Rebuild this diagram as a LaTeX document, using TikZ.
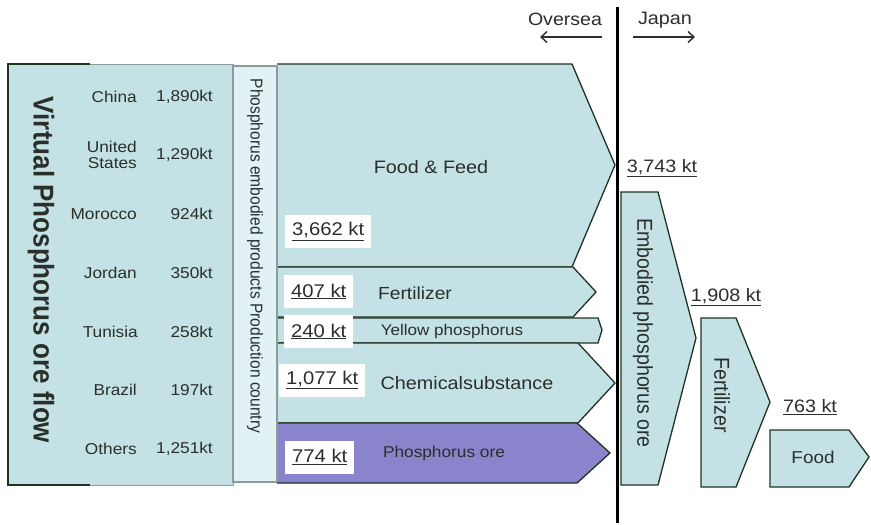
\documentclass[tikz,border=0pt]{standalone}
\usepackage{fontspec}
\setmainfont[FakeStretch=1.1]{Liberation Sans}
\newfontfamily\rotfont{Liberation Sans}
\usetikzlibrary{arrows.meta}
\definecolor{lblue}{HTML}{C4E2E6}
\definecolor{pblue}{HTML}{E2F1F4}
\definecolor{purp}{HTML}{8A84CC}
\definecolor{dgreen}{HTML}{1F3320}
\definecolor{bgray}{HTML}{8C9C9C}
\definecolor{tcol}{HTML}{2A2F2A}
\newcommand{\fsz}[1]{\fontsize{#1}{#1}\selectfont}
\tikzset{
  flow/.style={draw=dgreen, fill=lblue, line width=1.3pt, line join=miter},
  ore/.style={flow, fill=purp},
  lbl/.style={text=tcol, inner sep=0pt},
  val/.style={fill=white, text=tcol, inner xsep=7pt, minimum height=33pt, anchor=west, font=\fsz{18.4}},
  cty/.style={lbl, font=\fsz{15.7}, anchor=east, align=right},
  tot/.style={lbl, font=\fsz{18}},
}
\begin{document}
\begin{tikzpicture}[x=1pt,y=-1pt]
\useasboundingbox (0,0) rectangle (871,525);
\fill[white] (0,0) rectangle (871,525);
% left box
\fill[lblue] (8,64) rectangle (233,485);
\draw[bgray, line width=1pt] (8,64) rectangle (233,485);
\draw[dgreen, line width=1.6pt] (90,64) -- (8,64) -- (8,485) -- (90,485);
% middle column
\draw[fill=pblue, draw=bgray, line width=1.2pt] (233,66) rectangle (277,482);
% flows
\draw[flow] (277,64) -- (572,64) -- (615,165) -- (572,267) -- (277,267);
\draw[flow] (277,267) -- (573,267) -- (596,292) -- (573,317) -- (277,317);
\draw[flow] (277,318) -- (598,318) -- (602,330) -- (598,343) -- (277,343);
\draw[flow] (277,343) -- (578,343) -- (615,383) -- (578,423) -- (277,423);
\draw[ore] (277,423) -- (577,423) -- (610,453) -- (577,483) -- (277,483);
\draw[bgray, line width=1.2pt] (277,66) -- (277,482);
% right shapes
\draw[flow] (621,192) -- (658,192) -- (696,338) -- (658,485) -- (621,485) -- cycle;
\draw[flow] (701,318) -- (736,318) -- (770,402) -- (736,487) -- (701,487) -- cycle;
\draw[flow] (770,430) -- (849,430) -- (869,457) -- (849,487) -- (770,487) -- cycle;
% border line
\coordinate (ltop) at (617,7);
\coordinate (lbot) at (617,523);
\draw[black, line width=3pt] (ltop) -- (lbot);
\coordinate (oa) at (602,37);
\coordinate (ob) at (540,37);
\coordinate (ja) at (633,37);
\coordinate (jb) at (695,37);
\draw[tcol, line width=1.4pt, -{Straight Barb[length=6pt,width=11pt]}] (oa) -- (ob);
\draw[tcol, line width=1.4pt, -{Straight Barb[length=6pt,width=11pt]}] (ja) -- (jb);
\node[lbl, font=\fsz{17.8}] (oversea) at (565,19) {Oversea};
\node[lbl, font=\fsz{18}] (japan) at (665,20) {Japan};
% left texts
\node[lbl, rotate=-90] (vpf) at (41,270) {\scalebox{1}[1.1]{\rotfont\bfseries\fsz{26}Virtual Phosphorus ore flow}};
\node[cty] (c1) at (137,97) {China};
\node[cty] (c2) at (137,155) {\fontsize{15.7}{18}\selectfont United\\States};
\node[cty] (c3) at (137,214) {Morocco};
\node[cty] (c4) at (137,273) {Jordan};
\node[cty] (c5) at (138,332) {Tunisia};
\node[cty] (c6) at (137,390) {Brazil};
\node[cty] (c7) at (137,449) {Others};
\node[cty] (v1) at (213,97) {1,890kt};
\node[cty] (v2) at (213,155) {1,290kt};
\node[cty] (v3) at (213,214) {924kt};
\node[cty] (v4) at (213,273) {350kt};
\node[cty] (v5) at (213,332) {258kt};
\node[cty] (v6) at (213,390) {197kt};
\node[cty] (v7) at (213,449) {1,251kt};
\node[lbl, rotate=-90] (ppc) at (255,256) {\scalebox{1}[1.1]{\rotfont\fsz{15.6}Phosphorus embodied products Production country}};
% flow labels
\node[lbl, font=\fsz{18}] (ff) at (431,167) {Food \& Feed};
\node[lbl, font=\fsz{17.5}] (fe) at (415,293) {Fertilizer};
\node[lbl, font=\fsz{15.5}] (yp) at (452,331) {Yellow phosphorus};
\node[lbl, font=\fsz{18}] (cs) at (467,383) {Chemicalsubstance};
\node[lbl, font=\fsz{15.7}] (po) at (444,453) {Phosphorus ore};
\node[val] (b1) at (285,231.5) {\underline{3,662 kt}};
\node[val] (b2) at (284,291.5) {\underline{407 kt}};
\node[val] (b3) at (284,331.5) {\underline{240 kt}};
\node[val] (b4) at (279,380) {\underline{1,077 kt}};
\node[val] (b5) at (285,457) {\underline{774 kt}};
% right labels
\node[tot] (t1) at (662,168) {\underline{3,743 kt}};
\node[tot] (t2) at (726,297) {\underline{1,908 kt}};
\node[tot] (t3) at (810,407) {\underline{763 kt}};
\node[lbl, rotate=-90] (ep) at (643,333) {\scalebox{1}[1.1]{\rotfont\fsz{19.6}Embodied phosphorus ore}};
\node[lbl, rotate=-90] (fz) at (722,395) {\scalebox{1}[1.1]{\rotfont\fsz{19.6}Fertilizer}};
\node[lbl, font=\fsz{17.2}] (fd) at (813,457) {Food};
\end{tikzpicture}
\end{document}
